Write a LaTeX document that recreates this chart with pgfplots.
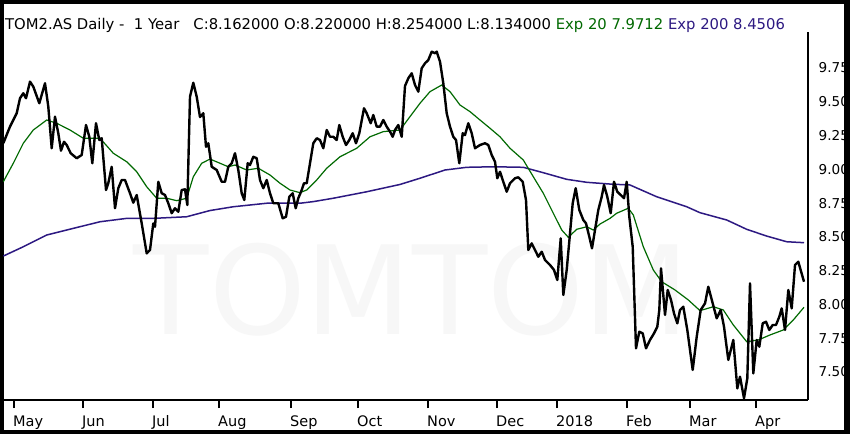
\documentclass[border=0pt]{standalone}
\usepackage{pgfplots}
\pgfplotsset{compat=1.18}
\usepackage{fontspec}
\setmainfont{DejaVu Sans}
\definecolor{emagreen}{RGB}{0,105,0}
\definecolor{emanavy}{RGB}{45,25,130}
\definecolor{wm}{RGB}{247,247,247}
\begin{document}
\begin{tikzpicture}
\fill[black] (0pt,0pt) rectangle (850pt,434pt);
\fill[white] (4pt,4pt) rectangle (844pt,430pt);
\node[text=wm, font=\fontsize{123}{130}\selectfont, inner sep=0pt] at (412pt,144pt) {TOMTOM};
\node[anchor=base west, inner sep=0pt, font=\fontsize{14.8}{18}\selectfont] at (5pt,404pt)
  {TOM2.AS Daily -\ \ 1 Year\ \ \ C:8.162000 O:8.220000 H:8.254000 L:8.134000 \textcolor{emagreen}{Exp 20 7.9712} \textcolor{emanavy}{Exp 200 8.4506}};
\begin{axis}[
  at={(3pt,34pt)}, anchor=south west,
  scale only axis, width=805pt, height=368pt,
  xmin=3, xmax=808, ymin=7.2926, ymax=10.0165,
  axis x line*=bottom, axis y line*=right,
  axis line style={-, line width=1.5pt, black},
  xtick={14,83,153,219,291,358,428,497,557,627,690,756},
  xticklabels={May,Jun,Jul,Aug,Sep,Oct,Nov,Dec,2018,Feb,Mar,Apr},
  ytick={7.5,7.75,8,8.25,8.5,8.75,9,9.25,9.5,9.75},
  yticklabels={7.50,7.75,8.00,8.25,8.50,8.75,9.00,9.25,9.50,9.75},
  tick align=outside,
  x tick style={line width=1.5pt, black}, major tick length=8pt,
  y tick style={draw=none},
  xticklabel style={anchor=base west, inner sep=0pt, xshift=-1pt, yshift=-18.6pt, font=\fontsize{14.5}{17}\selectfont},
  yticklabel style={anchor=west, inner sep=0pt, xshift=2.5pt, font=\fontsize{13.6}{16}\selectfont},
  /pgf/number format/assume math mode=true,
  clip=true,
]
% Exp 200
\addplot[emanavy, line width=1.5pt] coordinates {
(3.3,8.358) (23.3,8.427) (46.7,8.514) (73.3,8.563) (100,8.612) (126.7,8.637) (153.3,8.637)
(186.7,8.649) (210,8.695) (233.3,8.723) (266.7,8.749) (300,8.749) (313.3,8.761) (333.3,8.786)
(366.7,8.834) (400,8.888) (420,8.934) (445,8.995) (466.7,9.015) (493.3,9.019) (523.3,9.015)
(543.3,8.975) (566.7,8.926) (586.7,8.904) (610,8.891) (630,8.884) (656.7,8.797) (686.7,8.723)
(700,8.679) (726.7,8.625) (746.7,8.556) (766.7,8.506) (786.7,8.464) (804,8.457)
};
% Exp 20
\addplot[emagreen, line width=1.2pt] coordinates {
(3.3,8.908) (13.3,9.045) (23.3,9.193) (33.3,9.291) (46.7,9.365) (56.7,9.341) (70,9.291)
(83.3,9.230) (90,9.230) (100,9.230) (113.3,9.119) (126.7,9.056) (136.7,8.982) (146.7,8.871)
(156.7,8.786) (166.7,8.786) (176.7,8.768) (186.7,8.786) (193.3,8.945) (201.7,9.045) (210,9.076)
(220,9.045) (228.3,9.019) (235,9.032) (246.7,8.995) (258.3,9.008) (270,8.958) (280,8.897)
(290,8.847) (300,8.827) (306.7,8.847) (316.7,8.921) (326.7,9.008) (340,9.093) (356.7,9.156)
(370,9.241) (383.3,9.279) (400,9.291) (410,9.390) (420,9.489) (430,9.575) (441.7,9.624)
(450,9.575) (460,9.476) (470,9.427) (480,9.365) (490,9.304) (500,9.241) (510,9.156)
(523.3,9.069) (533.3,8.945) (543.3,8.823) (553.3,8.675) (561.7,8.551) (568.3,8.497)
(576.7,8.556) (586.7,8.575) (593.3,8.551) (600,8.595) (610,8.637) (616.7,8.675) (628.3,8.712)
(633.3,8.662) (643.3,8.427) (653.3,8.255) (661.7,8.168) (675,8.107) (688.3,8.033) (700,7.954)
(713.3,7.983) (723.3,7.959) (733.3,7.848) (746.7,7.724) (758.3,7.737) (770,7.774) (783.3,7.811)
(793.3,7.885) (804,7.979)
};
% Close
\addplot[black, line width=2.4pt, line join=round] coordinates {
(3.3,9.193) (10,9.316) (16.7,9.415) (20,9.526) (23.3,9.563) (26,9.526) (30,9.649) (33.3,9.612)
(39.3,9.489) (45,9.637) (48.3,9.464) (51.7,9.156) (55,9.390) (58.3,9.267) (61,9.138) (64,9.204)
(66.7,9.180) (70.7,9.119) (76.7,9.082) (81.7,9.106) (86,9.328) (89.3,9.241) (92.3,9.045)
(96,9.341) (99.3,9.217) (101.7,9.230) (106,8.847) (108.3,8.897) (111.7,9.019) (115,8.712)
(118.3,8.860) (121.7,8.921) (125,8.921) (130,8.823) (133.3,8.753) (136.7,8.810) (141.7,8.600)
(146.7,8.378) (150,8.403) (153.3,8.600) (155,8.575) (158.3,8.908) (161.7,8.823) (165,8.810)
(168.3,8.749) (171.7,8.675) (175,8.712) (178.3,8.686) (181.7,8.847) (185,8.852) (187.3,8.736)
(190,9.538) (193.3,9.641) (196.7,9.538) (200,9.387) (203.3,9.415) (206,9.167) (208.3,9.193)
(211.7,9.019) (216.7,8.995) (221.7,8.908) (225,8.908) (228.3,9.019) (231.7,9.045) (235,9.119)
(238.3,8.995) (241.7,8.823) (244.3,8.773) (247.7,9.045) (250,9.032) (253.3,9.093) (256.7,9.082)
(260,8.921) (263.3,8.860) (266.7,8.921) (270,8.823) (273.3,8.749) (278.3,8.749) (282.7,8.637)
(286,8.649) (289.3,8.797) (292.7,8.823) (295.7,8.712) (298.3,8.786) (301.7,8.847) (304,8.897)
(306.7,8.897) (310,9.045) (313.3,9.193) (316.7,9.230) (320,9.217) (323.3,9.156) (326.7,9.291)
(330,9.241) (333.3,9.241) (336.7,9.217) (339.3,9.328) (342.7,9.241) (346,9.180) (349.3,9.217)
(352.7,9.267) (356,9.193) (359.3,9.267) (364,9.452) (366.7,9.415) (370.7,9.341) (373.3,9.402)
(376.7,9.316) (380,9.316) (383.3,9.365) (386.7,9.316) (390,9.279) (392.7,9.241) (395,9.291)
(398.3,9.328) (401.7,9.241) (405,9.617) (408.3,9.674) (411.7,9.711) (415,9.624) (418.3,9.575)
(421.7,9.748) (425,9.785) (428.3,9.809) (431.7,9.871) (435,9.859) (436.7,9.871) (440,9.797)
(443.3,9.637) (446.7,9.415) (450,9.316) (453.3,9.241) (456,9.217) (459.3,9.045) (462.7,9.267)
(465,9.254) (468.3,9.341) (471.7,9.267) (475,9.156) (480,9.180) (485,9.193) (488.3,9.180)
(491.7,9.106) (495,9.056) (497.3,8.934) (500,8.982) (503.3,8.908) (506.7,8.834) (510,8.897)
(515,8.934) (518.3,8.941) (522.7,8.908) (526,8.773) (528.3,8.403) (531.7,8.452) (535,8.403)
(538.3,8.353) (541.7,8.390) (545,8.329) (550,8.292) (554,8.255) (557.3,8.181) (560.7,8.489)
(563.3,8.070) (566.7,8.255) (570,8.526) (572.7,8.749) (575.7,8.860) (579.3,8.699) (583.3,8.625)
(586,8.600) (589.3,8.501) (592,8.415) (595,8.551) (598.3,8.699) (601.7,8.797) (604,8.884)
(607.3,8.797) (610.7,8.675) (614,8.908) (617.3,8.834) (620.7,8.810) (624,8.786) (626.7,8.908)
(629.3,8.649) (632.7,8.427) (636,7.675) (639.3,7.798) (642.7,7.786) (646,7.675) (650,7.737)
(654,7.786) (657.3,7.835) (659.3,7.959) (661,8.267) (665,7.922) (667.7,8.107) (671,8.033)
(674,7.934) (677.3,7.860) (680,7.959) (683.3,7.983) (687.3,7.811) (692.7,7.515) (696.7,7.761)
(700.7,7.959) (705,8.008) (708.3,8.131) (712.7,8.008) (716.7,7.897) (720.7,7.959) (724,7.835)
(728.3,7.589) (733.3,7.737) (737.3,7.379) (740,7.465) (744,7.305) (747.3,7.453) (750,8.156)
(753.3,7.490) (756.7,7.737) (759.3,7.687) (762.7,7.860) (766,7.872) (769.3,7.811) (772.7,7.848)
(776,7.848) (779.3,7.909) (781.7,7.971) (785,7.811) (788.3,8.107) (791.7,7.971) (795,8.292)
(798.3,8.316) (804,8.168)
};
\end{axis}
\end{tikzpicture}
\end{document}
